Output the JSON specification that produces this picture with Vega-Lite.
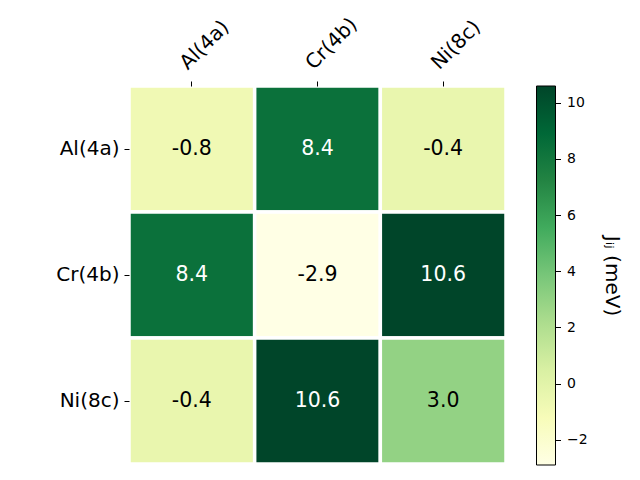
{
  "$schema": "https://vega.github.io/schema/vega-lite/v6.json",
  "padding": {"left": 55, "top": 13, "right": 5, "bottom": 5},
  "background": "white",
  "config": {
    "font": "DejaVu Sans",
    "view": {"stroke": null},
    "axis": {"labelColor": "black", "tickColor": "black", "labelFont": "DejaVu Sans", "titleFont": "DejaVu Sans", "grid": false, "domain": false}
  },
  "spacing": 27.5,
  "hconcat": [
    {
      "width": 377,
      "height": 378,
      "data": {"values": [
        {"row": "Al(4a)", "col": "Al(4a)", "J": -0.8},
        {"row": "Al(4a)", "col": "Cr(4b)", "J": 8.4},
        {"row": "Al(4a)", "col": "Ni(8c)", "J": -0.4},
        {"row": "Cr(4b)", "col": "Al(4a)", "J": 8.4},
        {"row": "Cr(4b)", "col": "Cr(4b)", "J": -2.9},
        {"row": "Cr(4b)", "col": "Ni(8c)", "J": 10.6},
        {"row": "Ni(8c)", "col": "Al(4a)", "J": -0.4},
        {"row": "Ni(8c)", "col": "Cr(4b)", "J": 10.6},
        {"row": "Ni(8c)", "col": "Ni(8c)", "J": 3.0}
      ]},
      "transform": [{"calculate": "replace(format(datum.J, '.1f'), '\u2212', '-')", "as": "label"}],
      "encoding": {
        "x": {"field": "col", "type": "nominal", "sort": ["Al(4a)", "Cr(4b)", "Ni(8c)"],
              "scale": {"paddingInner": 0, "paddingOuter": 0},
              "axis": {"orient": "top", "title": null, "labelAngle": -45, "labelAlign": "left", "labelBaseline": "alphabetic",
                       "labelFontSize": 20, "tickSize": 5, "labelPadding": 11, "labelOffset": -4}},
        "y": {"field": "row", "type": "nominal", "sort": ["Al(4a)", "Cr(4b)", "Ni(8c)"],
              "scale": {"paddingInner": 0, "paddingOuter": 0},
              "axis": {"title": null, "labelFontSize": 20, "tickSize": 5, "labelPadding": 5}}
      },
      "layer": [
        {
          "mark": {"type": "rect", "stroke": "white", "strokeWidth": 3.5},
          "encoding": {
            "color": {"field": "J", "type": "quantitative", "legend": null,
                      "scale": {"type": "linear", "interpolate": "rgb",
                                "domain": [-2.9, -1.2125, 0.475, 2.1625, 3.85, 5.5375, 7.225, 8.9125, 10.6],
                                "range": ["#ffffe5", "#f7fcb9", "#d9f0a3", "#addd8e", "#78c679", "#41ab5d", "#238443", "#006837", "#004529"]}}
          }
        },
        {
          "mark": {"type": "text", "fontSize": 20.5, "font": "DejaVu Sans"},
          "encoding": {
            "text": {"field": "label", "type": "nominal"},
            "color": {"condition": {"test": "datum.J > 6", "value": "white"}, "value": "black"}
          }
        }
      ]
    },
    {
      "width": 19,
      "height": 379,
      "data": {"values": [{"lo": -2.9, "hi": 10.6}]},
      "mark": {"type": "rect", "stroke": "black", "strokeWidth": 1,
               "fill": {"gradient": "linear", "x1": 0, "y1": 1, "x2": 0, "y2": 0,
                        "stops": [
                          {"offset": 0, "color": "#ffffe5"},
                          {"offset": 0.125, "color": "#f7fcb9"},
                          {"offset": 0.25, "color": "#d9f0a3"},
                          {"offset": 0.375, "color": "#addd8e"},
                          {"offset": 0.5, "color": "#78c679"},
                          {"offset": 0.625, "color": "#41ab5d"},
                          {"offset": 0.75, "color": "#238443"},
                          {"offset": 0.875, "color": "#006837"},
                          {"offset": 1, "color": "#004529"}
                        ]}},
      "encoding": {
        "y": {"field": "lo", "type": "quantitative",
              "scale": {"domain": [-2.9, 10.6], "nice": false, "zero": false},
              "axis": {"orient": "right", "values": [-2, 0, 2, 4, 6, 8, 10], "tickSize": 5, "labelFontSize": 14, "labelPadding": 6,
                       "title": "Jᵢⱼ (meV)", "titleFontSize": 20, "titleFontWeight": "normal", "titlePadding": 14, "titleColor": "black"}},
        "y2": {"field": "hi"}
      }
    }
  ]
}
